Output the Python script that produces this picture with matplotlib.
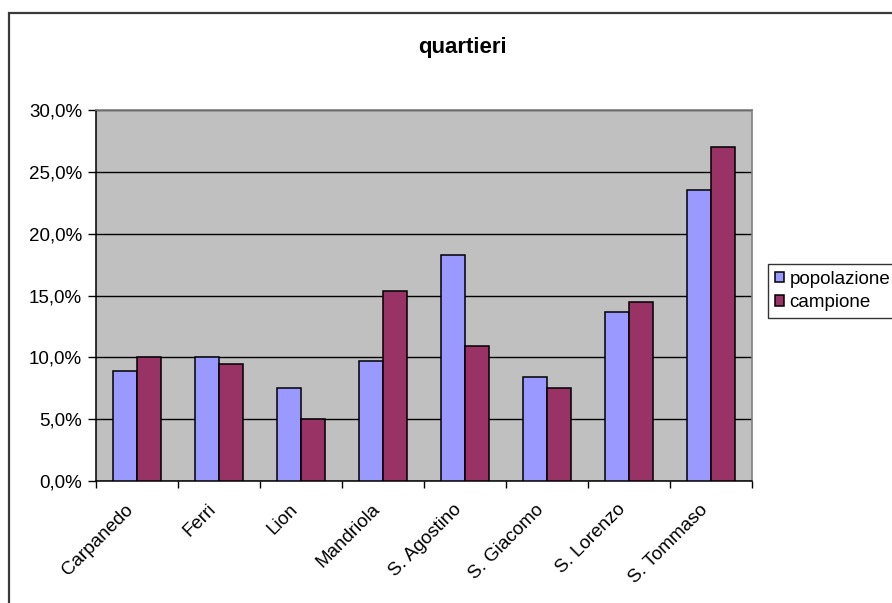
import matplotlib
matplotlib.use("Agg")
import matplotlib.pyplot as plt
import matplotlib.transforms as mtransforms
from matplotlib.patches import Rectangle
from matplotlib.ticker import FixedLocator, FuncFormatter
import numpy as np

plt.rcParams['font.family'] = ['Liberation Sans', 'DejaVu Sans']

# Data
quartieri = ["Carpanedo", "Ferri", "Lion", "Mandriola", "S. Agostino",
             "S. Giacomo", "S. Lorenzo", "S. Tommaso"]
popolazione = [8.9, 10.0, 7.5, 9.7, 18.3, 8.4, 13.7, 23.5]
campione = [10.0, 9.5, 5.0, 15.4, 10.9, 7.5, 14.5, 27.0]
y_ticks = [0, 5, 10, 15, 20, 25, 30]

W, H = 892, 603
fig = plt.figure(figsize=(W / 100, H / 100), dpi=100)
fig.patch.set_facecolor("white")

# Outer chart frame (runs off the right and bottom edges)
fig.patches.append(Rectangle((9 / W, -0.1), 1.2, 1.1 - 13 / H,
                             transform=fig.transFigure, fill=False,
                             edgecolor="#3a3a3a", linewidth=1.6, zorder=0))

left, right, top, bottom = 96, 752, 110, 481
ax = fig.add_axes([left / W, 1 - bottom / H, (right - left) / W, (bottom - top) / H])
ax.set_facecolor("#C0C0C0")

x = np.arange(len(quartieri))
bw = 0.287
b1 = ax.bar(x - bw / 2, popolazione, width=bw, color="#9999FF",
            edgecolor="black", linewidth=1.1, zorder=3, label="popolazione")
b2 = ax.bar(x + bw / 2, campione, width=bw, color="#993366",
            edgecolor="black", linewidth=1.1, zorder=3, label="campione")

ax.set_xlim(-0.5, len(quartieri) - 0.5)
ax.set_ylim(0, 30)

ax.yaxis.set_major_locator(FixedLocator(y_ticks))
ax.yaxis.set_major_formatter(FuncFormatter(lambda v, p: f"{v:.1f}%".replace(".", ",")))
ax.grid(axis="y", color="black", linewidth=1.0, zorder=1)
ax.set_axisbelow(True)

# Category boundary ticks on the x axis
ax.set_xticks(np.arange(len(quartieri) + 1) - 0.5)
ax.set_xticklabels([])
ax.tick_params(axis="x", direction="out", length=5, width=1, color="black")
ax.tick_params(axis="y", direction="out", length=6, width=1, color="black",
               labelsize=13.5, pad=4)

for s in ("left", "bottom"):
    ax.spines[s].set_color("black")
    ax.spines[s].set_linewidth(1.1)
for s in ("top", "right"):
    ax.spines[s].set_color("#808080")
    ax.spines[s].set_linewidth(1.2)

# Rotated category labels
trans = mtransforms.blended_transform_factory(ax.transData, ax.transAxes)
offset = mtransforms.ScaledTranslation(0 / 100, -20 / 100, fig.dpi_scale_trans)
for xi, name in zip(x, quartieri):
    ax.text(xi, 0, name, transform=trans + offset, rotation=45,
            ha="right", va="top", fontsize=13.5)

# Title
fig.text(462 / W, 1 - 47 / H, "quartieri", ha="center", va="center",
         fontsize=16, fontweight="bold")

# Legend
leg = fig.legend(handles=[b1, b2], loc="upper left",
                 bbox_to_anchor=(768 / W, 1 - 264 / H), bbox_transform=fig.transFigure,
                 fontsize=13.5, frameon=True, fancybox=False, borderaxespad=0,
                 handlelength=0.5, handleheight=0.5, handletextpad=0.3,
                 labelspacing=0.35, borderpad=0.35)
leg.get_frame().set_edgecolor("black")
leg.get_frame().set_linewidth(1.0)

fig.savefig("out.png", dpi=100)
